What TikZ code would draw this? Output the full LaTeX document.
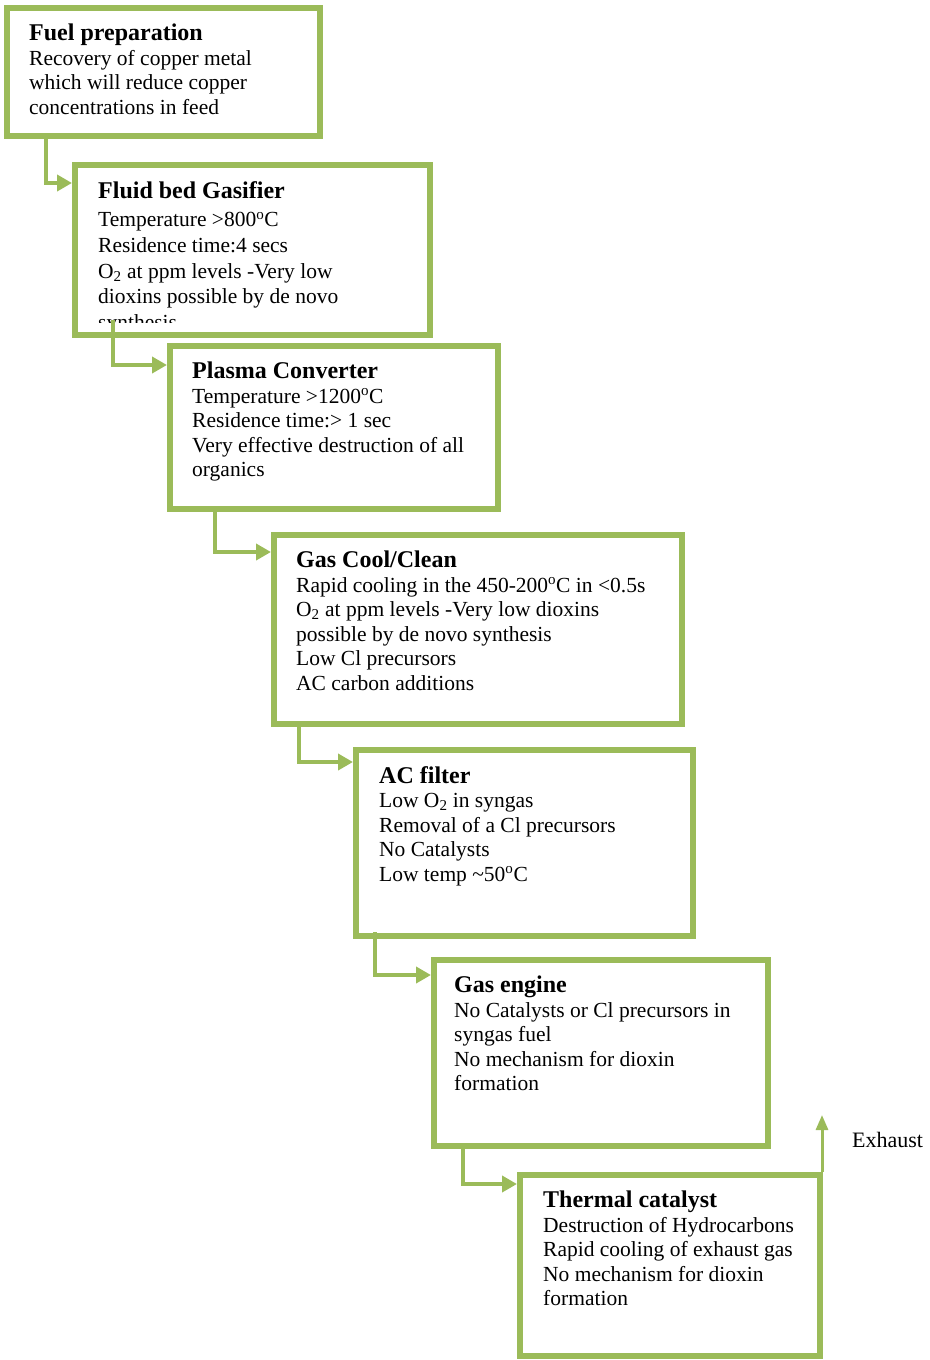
\documentclass[tikz,border=0pt]{standalone}
\usepackage{fontspec}
\setmainfont{Liberation Serif}
\usetikzlibrary{arrows.meta, positioning}
\definecolor{stageGreen}{HTML}{9BBB59}
\newcommand{\stagetitle}[1]{{\bfseries\fontsize{24}{24.5}\selectfont #1}}
\newcommand{\degC}{\textsuperscript{o}C}

\begin{document}
\begin{tikzpicture}[
    x=1pt, y=-1pt,
    stagebox/.style={rectangle, draw=stageGreen, line width=6pt, inner sep=0pt},
    stagetext/.style={anchor=north west, align=left, inner sep=0pt,
                 font=\fontsize{21.5}{24.5}\selectfont},
    flow/.style={draw=stageGreen, line width=4.3pt,
                 -{Triangle[length=15pt, width=16pt]}},
    exhaustflow/.style={draw=stageGreen, line width=3pt,
                 -{Triangle[length=15pt, width=12pt]}},
    exhaustlabel/.style={font=\fontsize{22}{24}\selectfont, inner sep=0pt},
  ]
    \useasboundingbox (0,0) rectangle (929,1360);

    \node[stagebox, anchor=north west, minimum width=313pt, minimum height=128pt] (prep) at (4,5) {};
    \node[stagebox, below right=23pt and 68pt of prep.south west, minimum width=355pt, minimum height=170pt] (gasifier) {};
    \node[stagebox, below right=5pt and 95pt of gasifier.south west, minimum width=328pt, minimum height=163pt] (plasma) {};
    \node[stagebox, below right=20pt and 104pt of plasma.south west, minimum width=408pt, minimum height=189pt] (gascool) {};
    \node[stagebox, below right=20pt and 82pt of gascool.south west, minimum width=337pt, minimum height=186pt] (acfilter) {};
    \node[stagebox, below right=18pt and 78pt of acfilter.south west, minimum width=334pt, minimum height=186pt] (engine) {};
    \node[stagebox, below right=23pt and 86pt of engine.south west, minimum width=300pt, minimum height=181pt] (thermal) {};

    \node[stagetext] (prep-text) at ([xshift=25pt, yshift=-19pt]prep.north west)
      {\stagetitle{Fuel preparation}\\ Recovery of copper metal\\ which will reduce copper\\ concentrations in feed};
    \begin{scope}
      \clip ([xshift=3pt, yshift=-3pt]gasifier.north west) rectangle ([yshift=16pt]gasifier.south east);
      \node[stagetext, font=\fontsize{21.5}{25.7}\selectfont] (gasifier-text) at ([xshift=26pt, yshift=-19pt]gasifier.north west)
        {\stagetitle{Fluid bed Gasifier}\\[3pt] Temperature >800\degC\\ Residence time:4 secs\\
         O\textsubscript{2} at ppm levels -Very low\\ dioxins possible by de novo\\ synthesis};
    \end{scope}
    \node[stagetext] (plasma-text) at ([xshift=25pt, yshift=-19pt]plasma.north west)
      {\stagetitle{Plasma Converter}\\ Temperature >1200\degC\\ Residence time:> 1 sec\\
       Very effective destruction of all\\ organics};
    \node[stagetext] (gascool-text) at ([xshift=25pt, yshift=-19pt]gascool.north west)
      {\stagetitle{Gas Cool/Clean}\\ Rapid cooling in the 450-200\degC{} in <0.5s\\
       O\textsubscript{2} at ppm levels -Very low dioxins\\ possible by de novo synthesis\\
       Low Cl precursors\\ AC carbon additions};
    \node[stagetext] (acfilter-text) at ([xshift=26pt, yshift=-19pt]acfilter.north west)
      {\stagetitle{AC filter}\\ Low O\textsubscript{2} in syngas\\ Removal of a Cl precursors\\
       No Catalysts\\ Low temp \textasciitilde50\degC};
    \node[stagetext] (engine-text) at ([xshift=23pt, yshift=-19pt]engine.north west)
      {\stagetitle{Gas engine}\\ No Catalysts or Cl precursors in\\ syngas fuel\\
       No mechanism for dioxin\\ formation};
    \node[stagetext] (thermal-text) at ([xshift=26pt, yshift=-19pt]thermal.north west)
      {\stagetitle{Thermal catalyst}\\ Destruction of Hydrocarbons\\ Rapid cooling of exhaust gas\\
       No mechanism for dioxin\\ formation};

    \foreach \src/\dst/\dx/\up/\dy in {prep/gasifier/42/4/21, gasifier/plasma/41/18/22,
        plasma/gascool/48/3/20, gascool/acfilter/28/3/15, acfilter/engine/22/7/18,
        engine/thermal/32/3/12}{
      \draw[flow] ([xshift=\dx pt, yshift=\up pt]\src.south west) |- ([yshift=-\dy pt]\dst.north west);
    }

    \coordinate (exhaust) at ([xshift=-1pt, yshift=57pt]thermal.north east);
    \draw[exhaustflow] ([xshift=-1pt]thermal.north east) -- (exhaust);
    \node[exhaustlabel, anchor=base west] (exhaust-label) at ([xshift=30pt, yshift=-32pt]exhaust) {Exhaust};
  \end{tikzpicture}
\end{document}
